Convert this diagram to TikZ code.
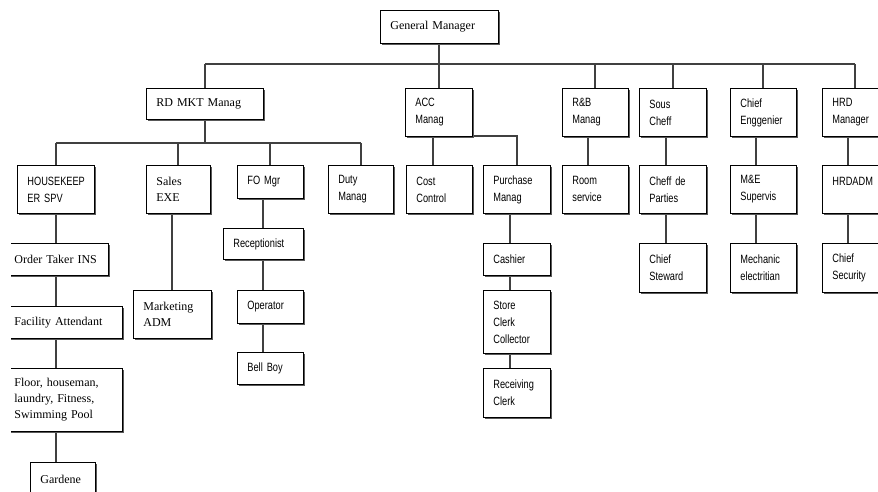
\documentclass[tikz,border=0pt]{standalone}
\usepackage{fontspec}
\setmainfont{Liberation Serif}
\newfontfamily\narrowfont[FakeStretch=0.77]{Liberation Sans}
\usetikzlibrary{shadows,backgrounds}
\tikzset{
  box/.style={draw, line width=0.8pt, fill=white, anchor=north west, align=left,
    inner xsep=10pt, inner ysep=0pt, font=\narrowfont\fontsize{12}{17}\selectfont,
    drop shadow={shadow xshift=1.5pt, shadow yshift=-1.5pt, fill=black!65, opacity=1}},
  serifbox/.style={box, font=\rmfamily\fontsize{12}{16}\selectfont},
  link/.style={line width=2pt, draw=black!75}
}
\begin{document}
\begin{tikzpicture}[x=1pt,y=-1pt]
\useasboundingbox (0,0) rectangle (878,492);
\begin{scope}
\clip (11,0) rectangle (878,492);
\node[serifbox, text width=98pt, minimum height=33pt] (gm) at (380,10) {General Manager};
\node[serifbox, text width=97pt, minimum height=31pt] (rd) at (146,88) {RD MKT Manag};
\node[box, text width=47pt, minimum height=48pt] (acc) at (405,88) {ACC\\Manag};
\node[box, text width=46pt, minimum height=48pt] (rb) at (562,88) {R\&B\\Manag};
\node[box, text width=47pt, minimum height=48pt] (sous) at (639,88) {Sous\\Cheff};
\node[box, text width=46pt, minimum height=48pt] (ce) at (730,88) {Chief\\Enggenier};
\node[box, text width=46pt, minimum height=48pt] (hrd) at (822,88) {HRD\\Manager};
\node[box, text width=57pt, minimum height=48pt] (hk) at (17,165) {HOUSEKEEP\\ER SPV};
\node[serifbox, text width=44pt, minimum height=48pt] (sales) at (146,165) {Sales\\EXE};
\node[box, text width=46pt, minimum height=33pt] (fo) at (237,165) {FO Mgr};
\node[box, text width=45pt, minimum height=48pt] (duty) at (328,165) {Duty\\Manag};
\node[box, text width=46pt, minimum height=48pt] (cost) at (406,165) {Cost\\Control};
\node[box, text width=47pt, minimum height=48pt] (purch) at (483,165) {Purchase\\Manag};
\node[box, text width=46pt, minimum height=48pt] (room) at (562,165) {Room\\service};
\node[box, text width=47pt, minimum height=48pt] (cdp) at (639,165) {Cheff de\\Parties};
\node[box, text width=46pt, minimum height=48pt] (me) at (730,165) {M\&E\\Supervis};
\node[box, text width=46pt, minimum height=48pt] (hrdadm) at (822,165) {HRDADM\\~};
\node[serifbox, text width=84pt, minimum height=32pt] (ot) at (4,243) {Order Taker INS};
\node[serifbox, text width=98pt, minimum height=32pt] (fa) at (4,306) {Facility Attendant};
\node[serifbox, text width=98pt, minimum height=63pt] (floor) at (4,368) {Floor, houseman,\\laundry, Fitness,\\Swimming Pool};
\node[serifbox, text width=45pt, minimum height=34pt] (gard) at (30,462) {Gardene};
\node[serifbox, text width=58pt, minimum height=48pt] (mkt) at (133,290) {Marketing\\ADM};
\node[box, text width=60pt, minimum height=31pt] (rec) at (223,228) {Receptionist};
\node[box, text width=46pt, minimum height=33pt] (op) at (237,290) {Operator};
\node[box, text width=46pt, minimum height=32pt] (bell) at (237,352) {Bell Boy};
\node[box, text width=47pt, minimum height=32pt] (cash) at (483,243) {Cashier};
\node[box, text width=47pt, minimum height=63pt] (store) at (483,290) {Store\\Clerk\\Collector};
\node[box, text width=47pt, minimum height=49pt] (recv) at (483,368) {Receiving\\Clerk};
\node[box, text width=47pt, minimum height=49pt] (steward) at (639,243) {Chief\\Steward};
\node[box, text width=46pt, minimum height=49pt] (mech) at (730,243) {Mechanic\\electritian};
\node[box, text width=46pt, minimum height=49pt] (sec) at (822,243) {Chief\\Security};
\end{scope}
\begin{scope}[on background layer]
\coordinate (bus1) at (0,64);
\coordinate (bus2) at (0,143);
\coordinate (accj) at (433,136);
\draw[link] (gm.south) -- (gm.south |- bus1);
\draw[link] (rd.north |- bus1) -- (hrd.north |- bus1);
\foreach \n in {rd,acc,rb,sous,ce,hrd}
  \draw[link] (\n.north) -- (\n.north |- bus1);
\draw[link] (rd.south) -- (rd.south |- bus2);
\draw[link] (hk.north |- bus2) -- (duty.north |- bus2);
\foreach \n in {hk,sales,fo,duty}
  \draw[link] (\n.north) -- (\n.north |- bus2);
\draw[link] (accj) -- (accj |- cost.north);
\draw[link] (accj) -| (purch.north);
\draw[link] (hk.south) -- (hk.south |- gard.north);
\draw[link] (mkt.north |- sales.south) -- (mkt.north);
\foreach \a/\b in {fo/bell,purch/recv,rb/room,sous/steward,ce/mech,hrd/sec}
  \draw[link] ([xshift=-7pt]\a.south) coordinate (t) -- (t |- \b.north);
\end{scope}
\end{tikzpicture}
\end{document}
